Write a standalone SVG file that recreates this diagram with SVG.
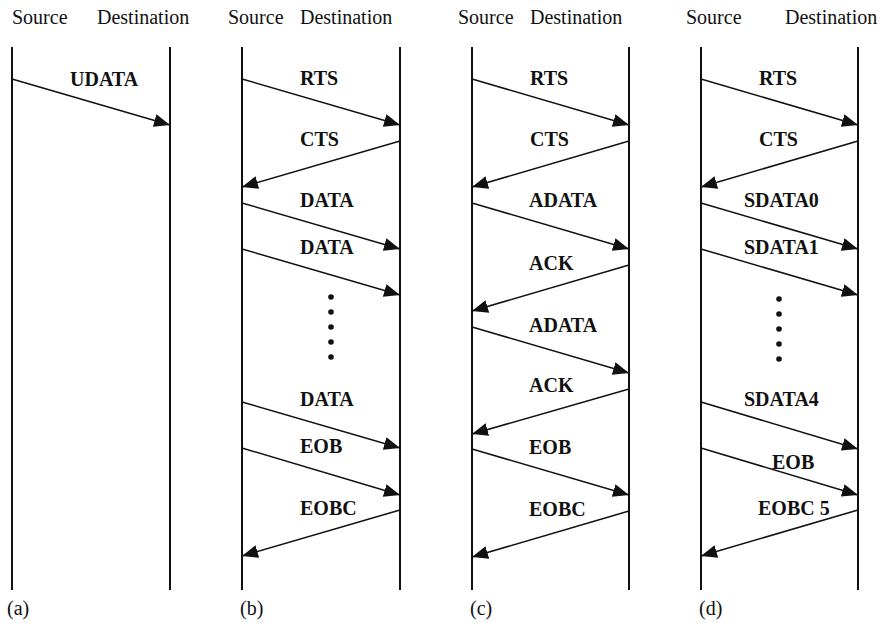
<svg xmlns="http://www.w3.org/2000/svg" width="880" height="623" viewBox="0 0 880 623">
<style>
.h{font-family:'Liberation Serif','Times New Roman',Tinos,'DejaVu Serif',serif;font-size:20px;fill:#111}
.l{font-family:'Liberation Serif','Times New Roman',Tinos,'DejaVu Serif',serif;font-size:20px;font-weight:bold;fill:#111}
.life{stroke:#111;stroke-width:2;fill:none}
.msg{stroke:#111;stroke-width:1.5;fill:none;marker-end:url(#ah)}
.dot{fill:#111}
</style>
<defs>
<marker id="ah" markerUnits="userSpaceOnUse" markerWidth="17" markerHeight="14" refX="16" refY="6.5" orient="auto">
<path d="M0,0 L16,6.5 L0,13 Z" fill="#111"/>
</marker>
</defs>
<g id="headers" font-family="Liberation Serif, serif">
<text class="h" x="12" y="24">Source</text><text class="h" x="97" y="24">Destination</text>
<text class="h" x="228" y="24">Source</text><text class="h" x="300" y="24">Destination</text>
<text class="h" x="458" y="24">Source</text><text class="h" x="530" y="24">Destination</text>
<text class="h" x="686" y="24">Source</text><text class="h" x="785" y="24">Destination</text>
</g>
<g id="lifelines">
<line class="life" x1="12" y1="47" x2="12" y2="590"/><line class="life" x1="170" y1="47" x2="170" y2="590"/>
<line class="life" x1="242" y1="47" x2="242" y2="590"/><line class="life" x1="400" y1="47" x2="400" y2="590"/>
<line class="life" x1="472" y1="47" x2="472" y2="590"/><line class="life" x1="629" y1="47" x2="629" y2="590"/>
<line class="life" x1="701" y1="47" x2="701" y2="590"/><line class="life" x1="858" y1="47" x2="858" y2="590"/>
</g>
<g id="connectors">
<line class="msg" x1="12" y1="79" x2="170" y2="125"/>
<line class="msg" x1="242" y1="79" x2="400" y2="125"/>
<line class="msg" x1="400" y1="141" x2="242" y2="187"/>
<line class="msg" x1="242" y1="203" x2="400" y2="249"/>
<line class="msg" x1="242" y1="249" x2="400" y2="295"/>
<line class="msg" x1="242" y1="402" x2="400" y2="448"/>
<line class="msg" x1="242" y1="448" x2="400" y2="495"/>
<line class="msg" x1="400" y1="510" x2="242" y2="556"/>
<line class="msg" x1="472" y1="79" x2="629" y2="125"/>
<line class="msg" x1="629" y1="141" x2="472" y2="187"/>
<line class="msg" x1="472" y1="203" x2="629" y2="249"/>
<line class="msg" x1="629" y1="265" x2="472" y2="311"/>
<line class="msg" x1="472" y1="327" x2="629" y2="373"/>
<line class="msg" x1="629" y1="389" x2="472" y2="434"/>
<line class="msg" x1="472" y1="449" x2="629" y2="495"/>
<line class="msg" x1="629" y1="511" x2="472" y2="557"/>
<line class="msg" x1="701" y1="79" x2="858" y2="125"/>
<line class="msg" x1="858" y1="141" x2="701" y2="187"/>
<line class="msg" x1="701" y1="203" x2="858" y2="249"/>
<line class="msg" x1="701" y1="249" x2="858" y2="295"/>
<line class="msg" x1="701" y1="402" x2="858" y2="449"/>
<line class="msg" x1="701" y1="448" x2="858" y2="495"/>
<line class="msg" x1="858" y1="510" x2="701" y2="556"/>
</g>
<g id="labels">
<text class="l" x="70" y="86">UDATA</text>
<text class="l" x="300" y="85">RTS</text>
<text class="l" x="300" y="146">CTS</text>
<text class="l" x="300" y="207">DATA</text>
<text class="l" x="300" y="254">DATA</text>
<text class="l" x="300" y="406">DATA</text>
<text class="l" x="300" y="453">EOB</text>
<text class="l" x="300" y="515">EOBC</text>
<text class="l" x="530" y="85">RTS</text>
<text class="l" x="530" y="146">CTS</text>
<text class="l" x="529" y="207">ADATA</text>
<text class="l" x="529" y="270">ACK</text>
<text class="l" x="529" y="332">ADATA</text>
<text class="l" x="529" y="392">ACK</text>
<text class="l" x="529" y="454">EOB</text>
<text class="l" x="529" y="516">EOBC</text>
<text class="l" x="759" y="85">RTS</text>
<text class="l" x="759" y="146">CTS</text>
<text class="l" x="744" y="207">SDATA0</text>
<text class="l" x="744" y="254">SDATA1</text>
<text class="l" x="744" y="406">SDATA4</text>
<text class="l" x="772" y="469">EOB</text>
<text class="l" x="758" y="515">EOBC 5</text>
</g>
<g id="dots">
<circle class="dot" cx="331" cy="297" r="2.8"/><circle class="dot" cx="331" cy="312" r="2.8"/><circle class="dot" cx="331" cy="327" r="2.8"/><circle class="dot" cx="331" cy="342" r="2.8"/><circle class="dot" cx="331" cy="357" r="2.8"/>
<circle class="dot" cx="779" cy="299" r="2.8"/><circle class="dot" cx="779" cy="314" r="2.8"/><circle class="dot" cx="779" cy="329" r="2.8"/><circle class="dot" cx="779" cy="344" r="2.8"/><circle class="dot" cx="779" cy="359" r="2.8"/>
</g>
<g id="captions">
<text class="h" x="7" y="615">(a)</text>
<text class="h" x="240" y="615">(b)</text>
<text class="h" x="470" y="615">(c)</text>
<text class="h" x="699" y="615">(d)</text>
</g>
</svg>
